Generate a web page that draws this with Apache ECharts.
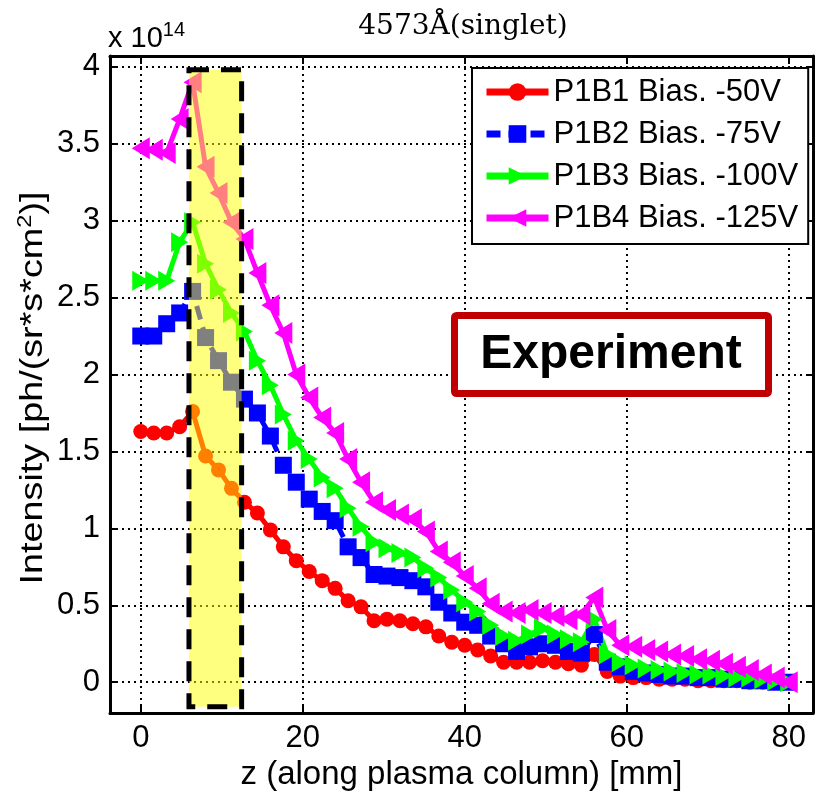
<!DOCTYPE html>
<html><head><meta charset="utf-8">
<script src="https://cdn.jsdelivr.net/npm/echarts@6/dist/echarts.min.js"></script>
<style>html,body{margin:0;padding:0;background:#fff}#c{width:818px;height:792px}</style>
</head><body><div id="c"></div>
<script>
// z positions along plasma column [mm]
const zPos = [0,1.6,3.2,4.8,6.4,8.0,9.6,11.2,12.8,14.4,16.0,17.6,19.2,20.8,22.4,24.0,25.6,27.2,28.8,30.4,
  32.0,33.6,35.2,36.8,38.4,40.0,41.6,43.2,44.8,46.4,48.0,49.6,51.2,52.8,54.4,56.0,57.6,59.2,60.8,62.4,
  64.0,65.6,67.2,68.8,70.4,72.0,73.6,75.2,76.8,78.4,80.0];
// intensities in units of 1e14 ph/(sr*s*cm^2)
const p1b1 = [1.63,1.62,1.62,1.66,1.76,1.47,1.38,1.26,1.17,1.10,0.99,0.88,0.79,0.72,0.66,0.61,0.53,0.49,0.40,0.41,
  0.40,0.38,0.36,0.30,0.26,0.24,0.21,0.17,0.13,0.13,0.13,0.14,0.13,0.12,0.11,0.18,0.07,0.04,0.03,0.03,
  0.02,0.02,0.02,0.01,0.01,0.01,0.01,0.00,0.00,0.00,0.00];
const p1b2 = [2.25,2.25,2.33,2.40,2.54,2.24,2.09,1.95,1.84,1.75,1.60,1.41,1.30,1.19,1.11,1.05,0.88,0.81,0.70,0.69,
  0.68,0.66,0.62,0.52,0.45,0.39,0.37,0.30,0.25,0.20,0.23,0.25,0.24,0.20,0.19,0.31,0.13,0.10,0.07,0.06,
  0.05,0.04,0.04,0.03,0.03,0.02,0.02,0.01,0.01,0.00,0.00];
const p1b3 = [2.61,2.61,2.61,2.86,2.99,2.72,2.55,2.40,2.28,2.09,1.93,1.74,1.57,1.45,1.33,1.26,1.13,1.01,0.91,0.87,
  0.84,0.81,0.74,0.68,0.60,0.52,0.46,0.37,0.30,0.27,0.31,0.35,0.31,0.28,0.26,0.41,0.18,0.13,0.11,0.09,
  0.08,0.07,0.06,0.05,0.05,0.04,0.03,0.03,0.02,0.01,0.00];
const p1b4 = [3.47,3.46,3.44,3.66,3.90,3.35,3.18,2.99,2.88,2.66,2.45,2.27,2.00,1.85,1.72,1.62,1.45,1.30,1.17,1.12,
  1.09,1.06,0.98,0.85,0.78,0.69,0.61,0.51,0.46,0.45,0.47,0.45,0.43,0.41,0.44,0.55,0.34,0.24,0.23,0.21,
  0.20,0.18,0.17,0.15,0.14,0.12,0.10,0.08,0.05,0.03,0.00];
const seriesNames = ['P1B1 Bias. -50V','P1B2 Bias. -75V','P1B3 Bias. -100V','P1B4 Bias. -125V'];
const xTicks = [0,20,40,60,80];
const yTicks = [0,0.5,1,1.5,2,2.5,3,3.5,4];
const highlightZ = [5.95,12.45];
const highlightI = [-0.16,3.98];

const FONT = 'Liberation Sans';
const chart = echarts.init(document.getElementById('c'), null, {renderer:'canvas'});

function mk(name, vals, color, symbol, size, rotate, dashed) {
  return {
    name, type:'line', data: zPos.map((z,i)=>[z, vals[i]]),
    symbol, symbolSize:size, symbolRotate: rotate, showSymbol:true, showAllSymbol:true,
    lineStyle:{color, width:5, type: dashed ? [14,8] : 'solid'},
    itemStyle:{color, borderColor:color, borderWidth:0, opacity:1},
    emphasis:{disabled:true}, clip:false, animation:false
  };
}
const axisBase = {color:'#000', width:3};
const option = {
  animation:false,
  backgroundColor:'#fff',
  grid:{left:110, right:5, top:56, bottom:79, containLabel:false, outerBoundsMode:'none'},
  xAxis:[{
    type:'value', min:-3.8, max:83, position:'bottom',
    axisLine:{show:true, onZero:false, lineStyle:axisBase},
    axisTick:{show:true, inside:true, length:7, lineStyle:{color:'#000', width:2}, customValues:xTicks},
    axisLabel:{show:true, customValues:xTicks, color:'#000', fontSize:31, fontFamily:FONT, margin:10},
    splitLine:{show:true, lineStyle:{color:'#000', width:2, type:[2,4]}},
    name:'z (along plasma column) [mm]', nameLocation:'middle', nameGap:43,
    nameTextStyle:{color:'#000', fontSize:33, fontFamily:FONT}
  },{
    type:'value', min:-3.8, max:83, position:'top',
    axisLine:{show:true, onZero:false, lineStyle:axisBase},
    axisTick:{show:true, inside:true, length:7, lineStyle:{color:'#000', width:2}, customValues:xTicks},
    axisLabel:{show:false}, splitLine:{show:false}
  }],
  yAxis:[{
    type:'value', min:-0.2, max:4.07, position:'left',
    axisLine:{show:true, onZero:false, lineStyle:axisBase},
    axisTick:{show:true, inside:true, length:7, lineStyle:{color:'#000', width:2}, customValues:yTicks},
    axisLabel:{show:true, customValues:yTicks, color:'#000', fontSize:31, fontFamily:FONT, margin:10},
    splitLine:{show:true, lineStyle:{color:'#000', width:2, type:[2,4]}}
  },{
    type:'value', min:-0.2, max:4.07, position:'right',
    axisLine:{show:true, onZero:false, lineStyle:axisBase},
    axisTick:{show:true, inside:true, length:7, lineStyle:{color:'#000', width:2}, customValues:yTicks},
    axisLabel:{show:false}, splitLine:{show:false}
  }],
  legend:{
    data:seriesNames, orient:'vertical', left:472, top:68, padding:[8,10,10,11],
    itemGap:10, itemWidth:62, itemHeight:22, borderColor:'#000', borderWidth:2,
    backgroundColor:'#fff', selectedMode:false, z:20,
    lineStyle:{width:7},
    textStyle:{fontFamily:FONT, fontSize:31, color:'#000', lineHeight:32}
  },
  series:[
    mk(seriesNames[0], p1b1, '#ff0000', 'circle', 15, 0, false),
    mk(seriesNames[1], p1b2, '#0000ff', 'rect', 17, 0, true),
    mk(seriesNames[2], p1b3, '#00ff00', 'triangle', [20,17], -90, false),
    mk(seriesNames[3], p1b4, '#ff00ff', 'triangle', [22,18], 90, false),
    {
      type:'line', data:[], silent:true,
      markArea:{
        silent:true, z:10,
        itemStyle:{color:'rgba(255,255,0,0.5)', borderColor:'#000', borderWidth:5, borderType:[20,12]},
        data:[[{coord:[highlightZ[0], highlightI[1]]},{coord:[highlightZ[1], highlightI[0]]}]]
      }
    }
  ],
  graphic:[
    {type:'text', left:108, top:20, z:30, style:{
      text:'x 10{s|14}', fill:'#000', font:'29px '+FONT,
      rich:{s:{fontSize:20, fontFamily:FONT, fill:'#000', verticalAlign:'top', padding:[0,0,18,0]}}}},
    {type:'text', x:463, y:27, z:30, style:{
      text:'4573Å(singlet)', fill:'#000', font:'28px "DejaVu Serif"', textAlign:'center', textVerticalAlign:'middle'}},
    {type:'text', x:33, y:388, z:30, rotation:Math.PI/2, scaleX:1.18, style:{
      text:'Intensity [ph/(sr*s*cm{s|2})]', fill:'#000', font:'32px '+FONT, textAlign:'center', textVerticalAlign:'middle',
      rich:{s:{fontSize:20, fontFamily:FONT, fill:'#000', verticalAlign:'top', padding:[0,0,16,0]}}}},
    {type:'rect', z:30, shape:{x:454.5, y:315.5, width:314, height:78, r:2},
      style:{fill:'#fff', stroke:'#c00000', lineWidth:7}},
    {type:'text', x:611, y:355, z:31, style:{
      text:'Experiment', fill:'#000', font:'bold 48px '+FONT, textAlign:'center', textVerticalAlign:'middle'}}
  ]
};
chart.setOption(option);
</script></body></html>
